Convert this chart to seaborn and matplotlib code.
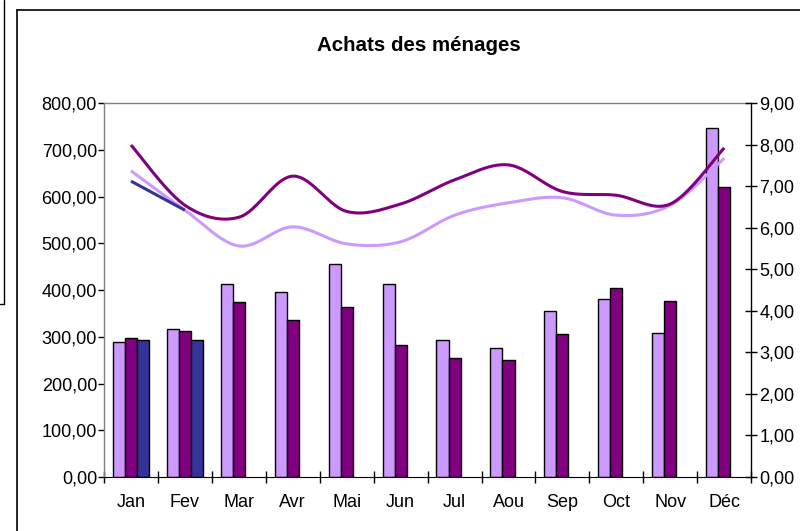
import numpy as np
import pandas as pd
import seaborn as sns
import matplotlib
matplotlib.use("Agg")
from matplotlib import pyplot as plt
from matplotlib.lines import Line2D
from matplotlib.ticker import FuncFormatter, FixedLocator

# data
months = ["Jan", "Fev", "Mar", "Avr", "Mai", "Jun", "Jul", "Aou", "Sep", "Oct", "Nov", "Déc"]
bars_light = [288, 316, 413, 396, 455, 413, 294, 277, 355, 380, 308, 746]
bars_dark = [297, 313, 374, 336, 363, 282, 255, 250, 305, 405, 376, 621]
bars_blue = [294, 294]
line_light = [7.37, 6.42, 5.56, 6.02, 5.61, 5.66, 6.30, 6.60, 6.72, 6.30, 6.54, 7.67]
line_dark = [7.99, 6.54, 6.25, 7.24, 6.39, 6.57, 7.15, 7.51, 6.87, 6.78, 6.57, 7.92]
line_blue = [7.12, 6.42]

series = ["S1", "S2", "S3"]
colors = ["#CC99FF", "#800080", "#333399"]


def smooth(values, steps=24):
    # Catmull-Rom style smoothing like Excel's "smoothed line"
    y = np.asarray(values, dtype=float)
    x = np.arange(len(y), dtype=float)
    if len(y) < 3:
        return x, y
    px = np.concatenate([[x[0]], x, [x[-1]]])
    py = np.concatenate([[y[0]], y, [y[-1]]])
    xs, ys = [], []
    t = np.linspace(0, 1, steps, endpoint=False)
    for i in range(1, len(px) - 2):
        for p, out in ((px, xs), (py, ys)):
            p0, p1, p2, p3 = p[i - 1], p[i], p[i + 1], p[i + 2]
            c1 = p1 + (p2 - p0) / 6
            c2 = p2 - (p3 - p1) / 6
            out.append((1 - t) ** 3 * p1 + 3 * (1 - t) ** 2 * t * c1 + 3 * (1 - t) * t ** 2 * c2 + t ** 3 * p2)
    xs.append([x[-1]])
    ys.append([y[-1]])
    return np.concatenate(xs), np.concatenate(ys)


rows = []
for name, vals in zip(series, [bars_light, bars_dark, bars_blue]):
    for m, v in zip(months, vals):
        rows.append({"Mois": m, "Valeur": v, "Serie": name})
df = pd.DataFrame(rows)

sns.set_style("white")
plt.rcParams["font.family"] = ["Liberation Sans", "DejaVu Sans"]
plt.rcParams["text.color"] = "black"
plt.rcParams["xtick.color"] = "black"
plt.rcParams["ytick.color"] = "black"
plt.rcParams["axes.labelcolor"] = "black"

fig = plt.figure(figsize=(8, 5.31), dpi=100)
ax = fig.add_axes([0.13, 0.1017, 0.809, 0.7043])

sns.barplot(data=df, x="Mois", y="Valeur", hue="Serie", order=months, hue_order=series,
            palette=colors, saturation=1, width=0.67, edgecolor="black", linewidth=1,
            legend=False, ax=ax, zorder=2)

ax2 = ax.twinx()
for vals, col in zip([line_light, line_dark, line_blue], colors):
    xs, ys = smooth(vals)
    ax2.plot(xs, ys, color=col, linewidth=2.2, solid_capstyle="butt")

ax.set_xlim(-0.5, 11.5)
ax.set_ylim(0, 800)
ax2.set_ylim(0, 9)
ax.set_xlabel("")
ax.set_ylabel("")

fmt = FuncFormatter(lambda v, p: f"{v:.2f}".replace(".", ","))
ax.yaxis.set_major_locator(FixedLocator(np.arange(0, 801, 100)))
ax.yaxis.set_major_formatter(fmt)
ax2.yaxis.set_major_locator(FixedLocator(np.arange(0, 10, 1)))
ax2.yaxis.set_major_formatter(fmt)

# category labels at centres, tick marks between categories
ax.xaxis.set_major_locator(FixedLocator(np.arange(-0.5, 12, 1)))
ax.xaxis.set_minor_locator(FixedLocator(np.arange(12)))
ax.set_xticklabels([""] * 13)
ax.set_xticklabels(months, minor=True)
ax.tick_params(axis="x", which="major", direction="inout", length=8, width=1, color="black", bottom=True)
ax.tick_params(axis="x", which="minor", length=0, pad=12, labelsize=13, labelcolor="black")
ax.tick_params(axis="y", direction="out", length=4, width=1, pad=1, labelsize=13, left=True,
               color="black", labelcolor="black")
ax2.tick_params(axis="y", direction="inout", length=8, width=1, pad=2, labelsize=13, right=True,
                color="black", labelcolor="black")

for s in ["top", "left"]:
    ax.spines[s].set_color("#808080")
    ax.spines[s].set_linewidth(1)
ax.spines["bottom"].set_color("black")
ax.spines["right"].set_visible(False)
for s in ["top", "left", "bottom"]:
    ax2.spines[s].set_visible(False)
ax2.spines["right"].set_color("black")
ax2.spines["right"].set_linewidth(1)

fig.text(0.523, 0.914, "Achats des ménages", ha="center", va="center", fontsize=14.8,
         fontweight="bold", color="black")

# chart frame and the edge of a neighbouring box
fig.add_artist(Line2D([17 / 800, 17 / 800], [0, 1 - 10 / 531], color="black", linewidth=1.2))
fig.add_artist(Line2D([17 / 800, 1], [1 - 10 / 531, 1 - 10 / 531], color="black", linewidth=1.2))
fig.add_artist(Line2D([4 / 800, 4 / 800], [1, 1 - 304 / 531], color="black", linewidth=1))
fig.add_artist(Line2D([0, 4 / 800], [1 - 304 / 531, 1 - 304 / 531], color="black", linewidth=1))

fig.savefig("out.png", dpi=100)
